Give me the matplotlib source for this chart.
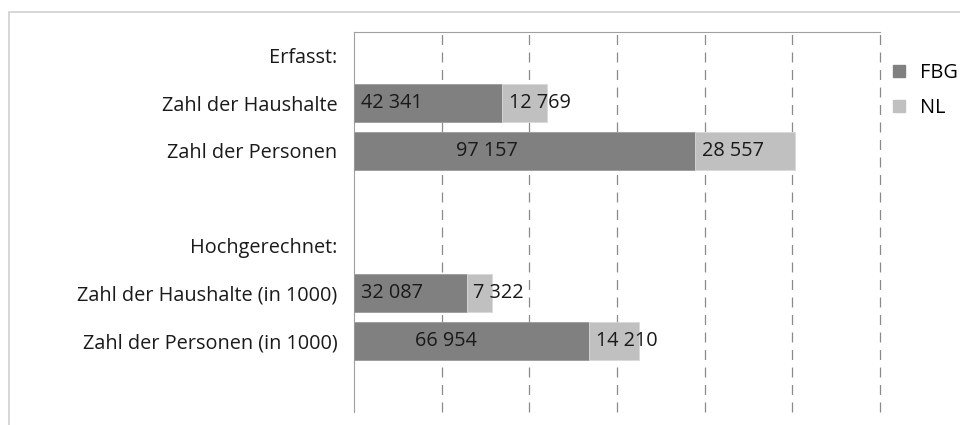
import matplotlib
matplotlib.use("Agg")
import matplotlib.pyplot as plt
from matplotlib.patches import Rectangle

categories = ["Erfasst:", "Zahl der Haushalte", "Zahl der Personen", "",
              "Hochgerechnet:", "Zahl der Haushalte (in 1000)", "Zahl der Personen (in 1000)", ""]
fbg = [None, 42341, 97157, None, None, 32087, 66954, None]
nl = [None, 12769, 28557, None, None, 7322, 14210, None]
series_names = ["FBG", "NL"]
colors = ["#808080", "#c0c0c0"]

def fmt(v):
    return f"{v:,}".replace(",", " ")

FS = 14.3
plt.rcParams['font.family'] = ['Open Sans', 'DejaVu Sans']
fig = plt.figure(figsize=(9.6, 4.25), dpi=100)
ax = fig.add_axes([354/960, 1-412/425, (880-354)/960, (412-32)/425])

# outer frame
fig.add_artist(Rectangle((9/960, -0.1), 1.2, 1-12/425+0.1, transform=fig.transFigure,
                         fill=False, edgecolor="#d0d0d0", linewidth=1.2))

ypos = list(range(len(categories)))
for i, (f, n) in enumerate(zip(fbg, nl)):
    if f is None:
        continue
    ax.barh(i, f, height=0.8, color=colors[0], edgecolor="#9a9a9a", linewidth=0.6, zorder=3)
    ax.barh(i, n, left=f, height=0.8, color=colors[1], edgecolor="#d8d8d8", linewidth=0.6, zorder=3)
    # FBG label
    if f > 60000:
        ax.text(f*0.39, i, fmt(f), ha="center", va="center", fontsize=FS, color="#1a1a1a", zorder=4)
    else:
        ax.annotate(fmt(f), (0, i), xytext=(5, 0), textcoords="offset points",
                    ha="left", va="center", fontsize=FS, color="#1a1a1a", zorder=4)
    ax.annotate(fmt(n), (f, i), xytext=(5, 0), textcoords="offset points",
                ha="left", va="center", fontsize=FS, color="#1a1a1a", zorder=4)

ax.set_xlim(0, 150000)
ax.set_ylim(len(categories)-0.5, -0.5)
ax.set_yticks(ypos)
ax.set_yticklabels(categories, fontsize=FS, color="#1a1a1a")
ax.tick_params(axis="y", length=0, pad=12)
ax.set_xticks([25000, 50000, 75000, 100000, 125000, 150000])
ax.tick_params(axis="x", length=0, labelbottom=False)
ax.grid(axis="x", color="#8a8a8a", linestyle=(0, (8, 6)), linewidth=0.9, zorder=0)
for gl in ax.get_xgridlines():
    gl.set_clip_on(False)
for s in ["right", "bottom"]:
    ax.spines[s].set_visible(False)
ax.spines["left"].set_color("#a0a0a0")
ax.spines["top"].set_color("#a0a0a0")

handles = [Rectangle((0, 0), 1, 1, color=c) for c in colors]
leg = fig.legend(handles, series_names, loc="upper left", bbox_to_anchor=(885/960, 1-55/425),
                 frameon=False, fontsize=FS, handlelength=0.6, handleheight=0.6,
                 handletextpad=0.75, labelspacing=0.75, borderaxespad=0)

fig.savefig("out.png", dpi=100)
